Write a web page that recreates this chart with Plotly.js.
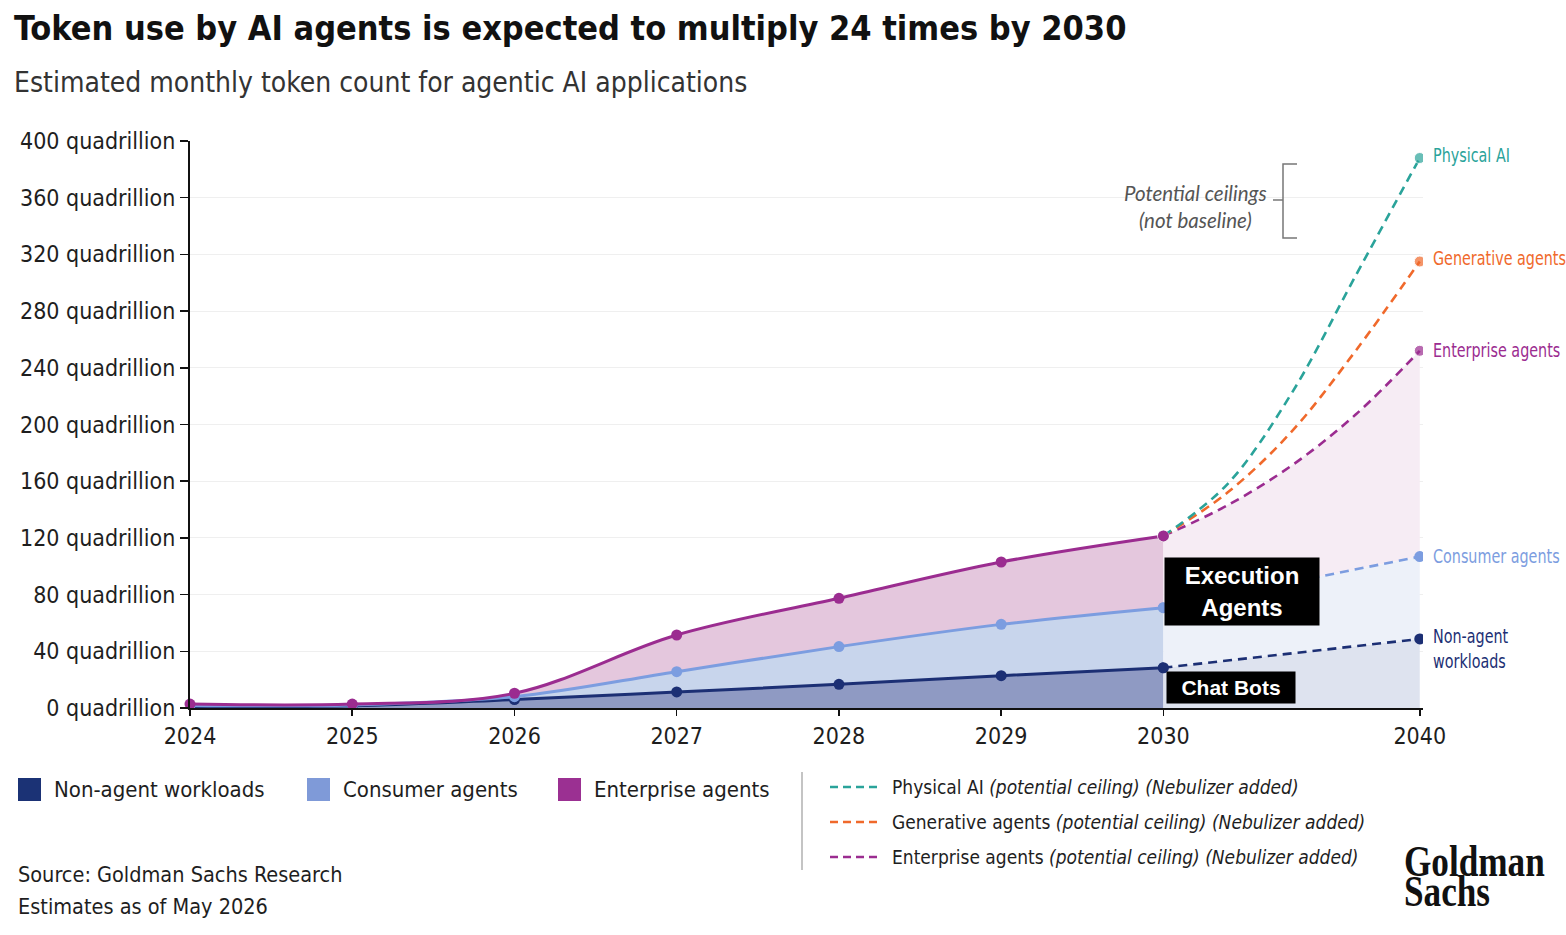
<!DOCTYPE html>
<html>
<head>
<meta charset="utf-8">
<script src="https://cdn.plot.ly/plotly-3.0.1.min.js"></script>
<style>
  html, body { margin: 0; padding: 0; background: #ffffff; }
  #chart { width: 1566px; height: 935px; }
</style>
</head>
<body>
<div id="chart"></div>
<script>
// ---------------- DATA (quadrillion tokens per month) ----------------
const histYears      = [2024, 2025, 2026, 2027, 2028, 2029, 2030];
const nonAgentLevel  = [1.0, 1.5, 6.0, 11.3, 16.7, 22.8, 28.4];     // top of Non-agent workloads band
const consumerLevel  = [1.8, 2.2, 8.0, 25.6, 43.3, 59.0, 70.8];     // top of Consumer agents band
const enterpriseLevel= [2.8, 2.8, 10.4, 51.5, 77.4, 103.0, 121.4];  // top of Enterprise agents band

const projEndYears      = [2030, 2040];
const nonAgentProj      = [28.4, 48.7];
const consumerProj      = [70.8, 106.8];

const ceilingYears      = [2030, 2032.5, 2035, 2037.5, 2040];
const enterpriseCeiling = [121.4, 143, 171, 207, 252];
const generativeCeiling = [121.4, 152, 195, 252, 315];
const physicalCeiling   = [121.4, 158, 222, 305, 388];

const xTickYears = [2024, 2025, 2026, 2027, 2028, 2029, 2030, 2040];
const yTickVals  = [0, 40, 80, 120, 160, 200, 240, 280, 320, 360, 400];

// ---------------- STYLE ----------------
const NARROW = '"Liberation Sans Narrow", "DejaVu Sans Condensed", "Roboto", sans-serif';
const C = {
  navy: '#1c2f74', blue: '#7c9de0', purple: '#9b2c90',
  teal: '#2aa39a', orange: '#f0692b', text: '#1e1e1e'
};

// axis scale: years 2024-2030 evenly spaced, 2030-2040 compressed
function xpos(y) { return y <= 2030 ? y - 2024 : 6 + (y - 2030) * 0.158; }

// pixel -> paper helpers for annotations / shapes outside the data
const PL = 190, PW = 1233, PT = 141, PH = 567;
const X = px => (px - PL) / PW;
const Y = py => (PT + PH - py) / PH;

const endSizes = (arr, s) => arr.map((v, i) => (i === 0 || i === arr.length - 1) ? s : 0);

const traces = [];
// historical stacked areas
traces.push({ x: histYears.map(xpos), y: nonAgentLevel, mode: 'lines+markers', type: 'scatter',
  line: { color: C.navy, width: 3, shape: 'spline' }, marker: { color: C.navy, size: 11 },
  fill: 'tozeroy', fillcolor: 'rgba(40,62,140,0.52)', hoverinfo: 'skip', showlegend: false });
traces.push({ x: histYears.map(xpos), y: consumerLevel, mode: 'lines+markers', type: 'scatter',
  line: { color: C.blue, width: 3, shape: 'spline' }, marker: { color: C.blue, size: 11 },
  fill: 'tonexty', fillcolor: 'rgba(200,213,236,1)', hoverinfo: 'skip', showlegend: false });
traces.push({ x: histYears.map(xpos), y: enterpriseLevel, mode: 'lines+markers', type: 'scatter',
  line: { color: C.purple, width: 3, shape: 'spline' }, marker: { color: C.purple, size: 11 },
  fill: 'tonexty', fillcolor: 'rgba(228,199,221,1)', hoverinfo: 'skip', showlegend: false, cliponaxis: false });

// projection areas 2030-2040
traces.push({ x: projEndYears.map(xpos), y: nonAgentProj, mode: 'lines+markers', type: 'scatter',
  line: { color: C.navy, width: 2.6, dash: '9px,6px' }, marker: { color: C.navy, size: 11 },
  fill: 'tozeroy', fillcolor: 'rgba(222,227,239,1)', hoverinfo: 'skip', showlegend: false });
traces.push({ x: projEndYears.map(xpos), y: consumerProj, mode: 'lines+markers', type: 'scatter',
  line: { color: C.blue, width: 2.6, dash: '9px,6px' }, marker: { color: C.blue, size: 11 },
  fill: 'tonexty', fillcolor: 'rgba(237,241,249,1)', hoverinfo: 'skip', showlegend: false });
traces.push({ x: ceilingYears.map(xpos), y: enterpriseCeiling, mode: 'lines+markers', type: 'scatter',
  line: { color: C.purple, width: 2.6, dash: '9px,6px', shape: 'spline' },
  marker: { color: C.purple, size: endSizes(ceilingYears, 11) },
  fill: 'tonexty', fillcolor: 'rgba(246,236,244,1)', hoverinfo: 'skip', showlegend: false });
traces.push({ x: ceilingYears.map(xpos), y: generativeCeiling, mode: 'lines+markers', type: 'scatter',
  line: { color: C.orange, width: 2.6, dash: '9px,6px', shape: 'spline' },
  marker: { color: C.orange, size: endSizes(ceilingYears, 11) }, hoverinfo: 'skip', showlegend: false });
traces.push({ x: ceilingYears.map(xpos), y: physicalCeiling, mode: 'lines+markers', type: 'scatter',
  line: { color: C.teal, width: 2.6, dash: '9px,6px', shape: 'spline' },
  marker: { color: C.teal, size: endSizes(ceilingYears, 11) }, hoverinfo: 'skip', showlegend: false });
// re-draw enterprise marker at 2030 on top
traces.push({ x: [xpos(2030)], y: [enterpriseLevel[enterpriseLevel.length - 1]], mode: 'markers', type: 'scatter',
  marker: { color: C.purple, size: 11 }, hoverinfo: 'skip', showlegend: false });

const last = a => a[a.length - 1];
const annotations = [];
const condenseIdx = {};   // annotation index -> horizontal scale
function txt(o) { annotations.push(Object.assign({ showarrow: false, xref: 'paper', yref: 'paper' }, o)); }

// title + subtitle
txt({ x: X(12), y: Y(28), xanchor: 'left', yanchor: 'middle', text: '<b>Token use by AI agents is expected to multiply 24 times by 2030</b>',
  font: { family: NARROW, size: 34, color: '#111' } });
txt({ x: X(12), y: Y(83), xanchor: 'left', yanchor: 'middle', text: 'Estimated monthly token count for agentic AI applications',
  font: { family: NARROW, size: 28, color: '#333' } });

// end labels
const endX = xpos(2040);
function endLabel(val, text, color, yshift) {
  condenseIdx[annotations.length] = 0.84;
  annotations.push({ xref: 'x', yref: 'y', x: endX, y: val, xanchor: 'left', yanchor: 'middle', xshift: 11, yshift: yshift || 0,
    text: text, showarrow: false, align: 'left', font: { family: NARROW, size: 19, color: color } });
}
endLabel(last(physicalCeiling), 'Physical AI', C.teal, 3);
endLabel(last(generativeCeiling), 'Generative agents', C.orange, 3);
endLabel(last(enterpriseCeiling), 'Enterprise agents', C.purple, 1);
endLabel(last(consumerProj), 'Consumer agents', C.blue, 1);
endLabel(last(nonAgentProj), 'Non-agent<br>workloads', C.navy, -10);

// ceilings note
txt({ x: X(1195), y: Y(206), xanchor: 'center', yanchor: 'middle', text: '<i>Potential ceilings<br>(not baseline)</i>',
  font: { family: '"Lato", "Open Sans", sans-serif', size: 20.5, color: '#555' } });

// black labels
txt({ x: X(1164), y: Y(591), xanchor: 'left', yanchor: 'middle', text: '<b>Execution<br>Agents</b>',
  bgcolor: '#000', width: 150, height: 63, borderpad: 2,
  font: { family: '"Liberation Sans", Arial, sans-serif', size: 24, color: '#fff' } });
txt({ x: X(1166), y: Y(687), xanchor: 'left', yanchor: 'middle', text: '<b>Chat Bots</b>',
  bgcolor: '#000', width: 124, height: 27, borderpad: 2,
  font: { family: '"Liberation Sans", Arial, sans-serif', size: 21, color: '#fff' } });

// legend (areas)
const legendItems = [
  { px: 18, color: '#1b3275', label: 'Non-agent workloads' },
  { px: 307, color: '#7f9ad8', label: 'Consumer agents' },
  { px: 558, color: '#9b3092', label: 'Enterprise agents' }
];
const shapes = [];
legendItems.forEach(it => {
  shapes.push({ type: 'rect', xref: 'paper', yref: 'paper', x0: X(it.px), x1: X(it.px + 23), y0: Y(801), y1: Y(778),
    fillcolor: it.color, line: { width: 0 } });
  txt({ x: X(it.px + 34), y: Y(790), xanchor: 'left', yanchor: 'middle', text: it.label,
    font: { family: NARROW, size: 22, color: C.text } });
});
// separator
shapes.push({ type: 'line', xref: 'paper', yref: 'paper', x0: X(802), x1: X(802), y0: Y(772), y1: Y(870),
  line: { color: '#b0b0b0', width: 1.5 } });
// dashed legend
const dashItems = [
  { py: 787, color: C.teal, label: 'Physical AI <i>(potential ceiling) (Nebulizer added)</i>' },
  { py: 822, color: C.orange, label: 'Generative agents <i>(potential ceiling) (Nebulizer added)</i>' },
  { py: 857, color: C.purple, label: 'Enterprise agents <i>(potential ceiling) (Nebulizer added)</i>' }
];
dashItems.forEach(it => {
  shapes.push({ type: 'line', xref: 'paper', yref: 'paper', x0: X(830), x1: X(879), y0: Y(it.py), y1: Y(it.py),
    line: { color: it.color, width: 2.5, dash: '8px,5px' } });
  txt({ x: X(890), y: Y(it.py), xanchor: 'left', yanchor: 'middle', text: it.label,
    font: { family: NARROW, size: 19, color: C.text } });
});
// bracket
shapes.push({ type: 'path', xref: 'paper', yref: 'paper',
  path: `M ${X(1297)},${Y(164)} L ${X(1283)},${Y(164)} L ${X(1283)},${Y(238)} L ${X(1297)},${Y(238)}`,
  line: { color: '#777', width: 1.5 } });
shapes.push({ type: 'line', xref: 'paper', yref: 'paper', x0: X(1273), x1: X(1283), y0: Y(200), y1: Y(200),
  line: { color: '#777', width: 1.5 } });

// source
txt({ x: X(16), y: Y(874), xanchor: 'left', yanchor: 'middle', text: 'Source: Goldman Sachs Research',
  font: { family: NARROW, size: 21.5, color: C.text } });
txt({ x: X(16), y: Y(906), xanchor: 'left', yanchor: 'middle', text: 'Estimates as of May 2026',
  font: { family: NARROW, size: 21.5, color: C.text } });
// logo (one two-line text, leading tightened after render)
const logoIdx = annotations.length;
condenseIdx[logoIdx] = 0.8;
txt({ x: X(1402), y: Y(835), xanchor: 'left', yanchor: 'top', align: 'left', text: '<b>Goldman</b><br><b>Sachs</b>',
  font: { family: '"Liberation Serif", "DejaVu Serif", serif', size: 44, color: '#111' } });

const layout = {
  width: 1566, height: 935,
  margin: { l: PL, r: 1566 - PL - PW, t: PT, b: 935 - PT - PH, pad: 0 },
  paper_bgcolor: '#ffffff', plot_bgcolor: '#ffffff',
  showlegend: false,
  xaxis: {
    range: [0, 7.6], tickvals: xTickYears.map(xpos), ticktext: xTickYears.map(String),
    showgrid: false, zeroline: false, showline: true, linecolor: '#111', linewidth: 2,
    ticks: 'outside', ticklen: 6, tickwidth: 1.5, tickcolor: '#111',
    tickfont: { family: NARROW, size: 23, color: C.text }, fixedrange: true
  },
  yaxis: {
    range: [0, 400], tickvals: yTickVals, ticktext: yTickVals.map(v => v + ' quadrillion'),
    showgrid: true, gridcolor: '#efefef', gridwidth: 1, zeroline: false,
    showline: true, linecolor: '#111', linewidth: 2,
    ticks: 'outside', ticklen: 8, tickwidth: 1.5, tickcolor: '#111',
    tickfont: { family: NARROW, size: 23, color: C.text }, fixedrange: true
  },
  annotations: annotations,
  shapes: shapes
};

function condense(el, k) {
  el.style.transformBox = 'fill-box';
  el.style.transformOrigin = 'left center';
  el.style.transform = 'scaleX(' + k + ')';
}

Plotly.newPlot('chart', traces, layout, { displayModeBar: false, staticPlot: true }).then(() => {
  // tighten logo leading
  const lg = document.querySelector('g.annotation[data-index="' + logoIdx + '"]');
  if (lg) {
    const lines = lg.querySelectorAll('tspan.line');
    if (lines.length > 1) {
      const dy = lines[1].getAttribute('dy') || '';
      const v = parseFloat(dy);
      if (!isNaN(v) && dy.indexOf('em') > 0) lines[1].setAttribute('dy', (v * 0.52) + 'em');
    }
  }
  Object.keys(condenseIdx).forEach(i => {
    const g = document.querySelector('g.annotation[data-index="' + i + '"]');
    if (g) {
      const t = g.querySelector('.annotation-text');
      if (t) condense(t, condenseIdx[i]);
    }
  });
});
</script>
</body>
</html>
